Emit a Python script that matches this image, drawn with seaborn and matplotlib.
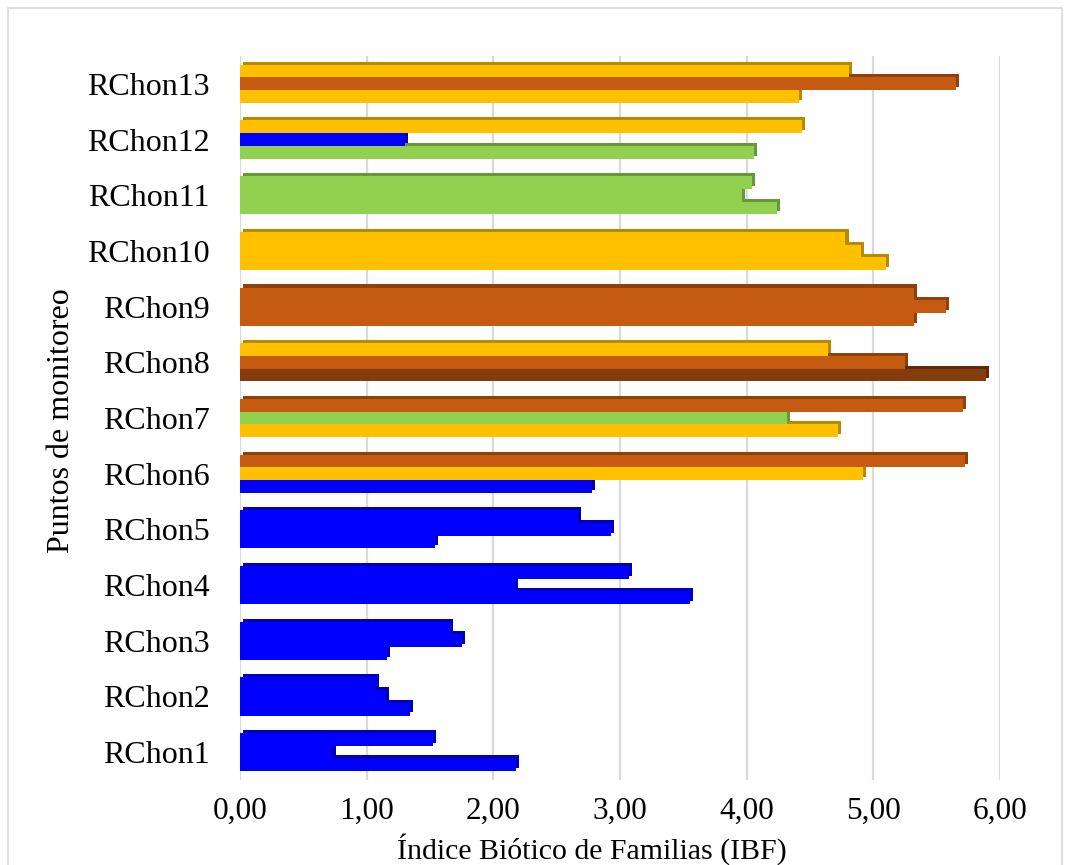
import numpy as np
import pandas as pd
import matplotlib
matplotlib.use("Agg")
import matplotlib.pyplot as plt
import matplotlib.patheffects as pe
from matplotlib.colors import to_rgb
import seaborn as sns

# ---------------- data ----------------
puntos = [f"RChon{i}" for i in range(1, 14)]
campanas = ["Monitoreo 1", "Monitoreo 2", "Monitoreo 3"]

# IBF per monitoring point (RChon1 .. RChon13)
ibf_m1 = [2.18, 1.34, 1.16, 3.55, 1.54, 2.78, 4.72, 5.89, 5.32, 5.10, 4.24, 4.06, 4.41]
ibf_m2 = [0.73, 1.15, 1.75, 2.17, 2.93, 4.92, 4.32, 5.25, 5.57, 4.90, 3.96, 1.30, 5.65]
ibf_m3 = [1.52, 1.07, 1.66, 3.07, 2.67, 5.72, 5.71, 4.64, 5.32, 4.78, 4.04, 4.44, 4.81]

# water-quality class of each bar
clase_m1 = ["Excelente"] * 6 + ["Buena", "Bastante pobre", "Regular", "Buena", "Muy buena", "Muy buena", "Buena"]
clase_m2 = ["Excelente"] * 5 + ["Buena", "Muy buena", "Regular", "Regular", "Buena", "Muy buena", "Excelente", "Regular"]
clase_m3 = ["Excelente"] * 5 + ["Regular", "Regular", "Buena", "Regular", "Buena", "Muy buena", "Buena", "Buena"]

x_ticks = [0, 1, 2, 3, 4, 5, 6]
x_ticklabels = ["0,00", "1,00", "2,00", "3,00", "4,00", "5,00", "6,00"]

class_colors = {
    "Excelente": "#0000FF",
    "Muy buena": "#92D050",
    "Buena": "#FFC000",
    "Regular": "#C55A11",
    "Bastante pobre": "#843C0C",
}

rows = []
for camp, vals, cls in zip(campanas, [ibf_m1, ibf_m2, ibf_m3], [clase_m1, clase_m2, clase_m3]):
    for p, v, c in zip(puntos, vals, cls):
        rows.append({"Punto": p, "Campana": camp, "IBF": v, "Clase": c})
df = pd.DataFrame(rows)

# ---------------- style ----------------
sns.set_theme(style="white")
plt.rcParams["font.family"] = ["Liberation Serif", "DejaVu Serif"]

fig = plt.figure(figsize=(10.66, 8.65), dpi=100)
ax = fig.add_axes([240 / 1066, 1 - 780 / 865, 760 / 1066, 724 / 865])

order = puntos[::-1]                    # RChon13 at top
hue_order = campanas[::-1]              # Monitoreo 3 at top of each group
sns.barplot(data=df, y="Punto", x="IBF", hue="Campana", order=order,
            hue_order=hue_order, orient="h", dodge=True, width=0.685,
            palette=["#888888"] * 3, legend=False, ax=ax, errorbar=None)

# colour each bar by its class, with a pseudo-3D darker side
for k, (cont, camp) in enumerate(zip(ax.containers, hue_order)):
    sub = df[df["Campana"] == camp].set_index("Punto")
    for bar, p in zip(cont, order):
        col = class_colors[sub.loc[p, "Clase"]]
        dark = tuple(c * 0.72 for c in to_rgb(col))
        bar.set_facecolor(col)
        bar.set_edgecolor("none")
        bar.set_zorder(3 + (len(hue_order) - k))
        bar.set_path_effects([pe.SimplePatchShadow(offset=(2.2, 2.2), shadow_rgbFace=dark, alpha=1.0),
                              pe.Normal()])

ax.set_xlim(0, 6)
ax.set_ylim(12.5, -0.5)
ax.set_xticks(x_ticks)
ax.set_xticklabels(x_ticklabels)
ax.xaxis.grid(True, color="#d9d9d9", linewidth=1.6, zorder=0)
ax.yaxis.grid(False)
ax.set_axisbelow(True)
for s in ax.spines.values():
    s.set_visible(False)
ax.tick_params(axis="both", length=0, colors="black")
ax.tick_params(axis="y", labelsize=23, pad=22)
ax.tick_params(axis="x", labelsize=22.5, pad=12)

ax.set_xlabel("Índice Biótico de Familias (IBF)", fontsize=21.5, color="black")
ax.set_ylabel("Puntos de monitoreo", fontsize=23, color="black")
ax.xaxis.set_label_coords(0.463, -0.0735)
ax.yaxis.set_label_coords(-0.216, 0.497)

# outer chart frame
frame = plt.Rectangle((8 / 1066, -0.02), 1054 / 1066, 1 - 8 / 865 + 0.02,
                      transform=fig.transFigure, fill=False,
                      edgecolor="#d9d9d9", linewidth=1.2)
fig.patches.append(frame)

fig.savefig("out.png", dpi=100)
